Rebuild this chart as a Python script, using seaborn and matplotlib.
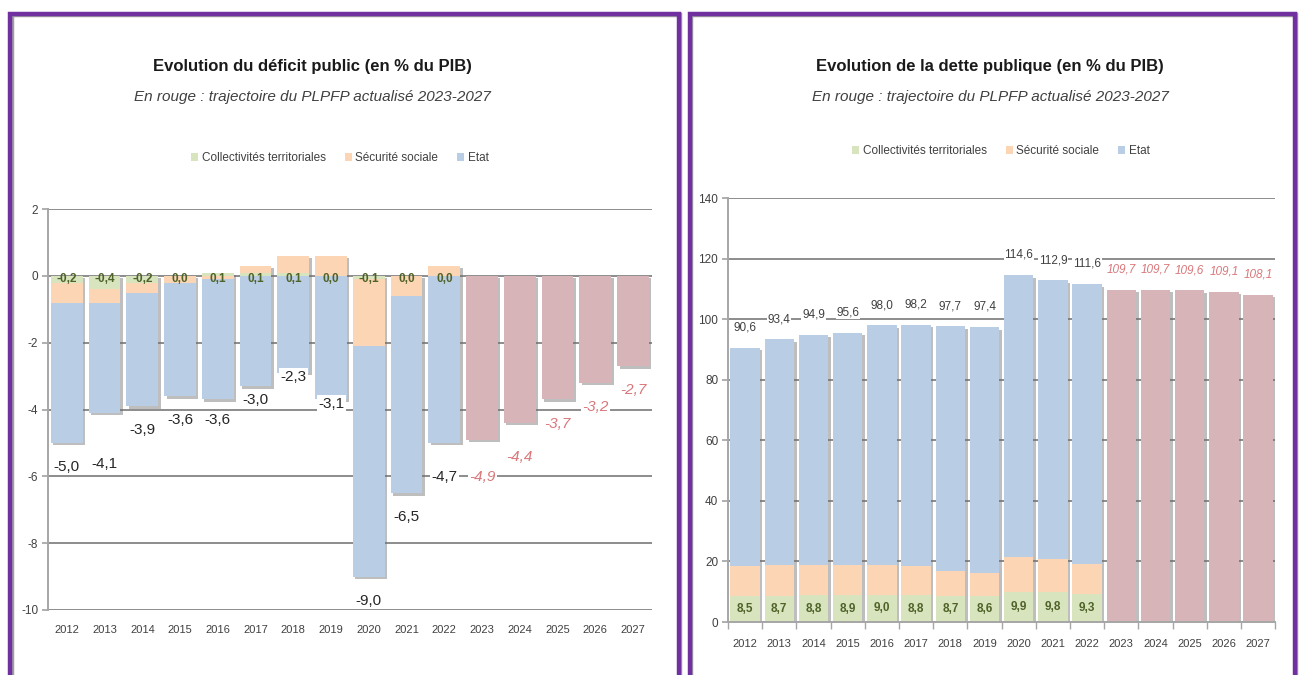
import numpy as np
import pandas as pd
import matplotlib
matplotlib.use('Agg')
import matplotlib.pyplot as plt
import matplotlib.patheffects as pe
from matplotlib.patches import Rectangle, Patch
import seaborn as sns

# ---- data -------------------------------------------------------------
years = [str(y) for y in range(2012, 2028)]
hist_years = years[:11]
plan_years = years[11:]

# déficit public (% du PIB), par sous-secteur
deficit_coll = [-0.2, -0.4, -0.2, 0.0, 0.1, 0.1, 0.1, 0.0, -0.1, 0.0, 0.0]
deficit_secu = [-0.6, -0.4, -0.3, -0.2, -0.1, 0.2, 0.5, 0.6, -2.0, -0.6, 0.3]
deficit_etat = [-4.2, -3.3, -3.4, -3.4, -3.6, -3.3, -2.9, -3.7, -6.9, -5.9, -5.0]
deficit_total = [-5.0, -4.1, -3.9, -3.6, -3.6, -3.0, -2.3, -3.1, -9.0, -6.5, -4.7]
deficit_plan = [-4.9, -4.4, -3.7, -3.2, -2.7]

# dette publique (% du PIB), par sous-secteur
dette_coll = [8.5, 8.7, 8.8, 8.9, 9.0, 8.8, 8.7, 8.6, 9.9, 9.8, 9.3]
dette_secu = [10.0, 10.0, 9.9, 9.8, 9.7, 9.7, 8.2, 7.7, 11.6, 10.9, 9.9]
dette_etat = [72.1, 74.7, 76.2, 76.9, 79.3, 79.7, 80.8, 81.1, 93.1, 92.2, 92.4]
dette_total = [90.6, 93.4, 94.9, 95.6, 98.0, 98.2, 97.7, 97.4, 114.6, 112.9, 111.6]
dette_plan = [109.7, 109.7, 109.6, 109.1, 108.1]

legend_labels = ['Collectivités territoriales', 'Sécurité sociale', 'Etat']

# ---- style ------------------------------------------------------------
C_COLL = '#d7e4bd'
C_SECU = '#fcd5b5'
C_ETAT = '#b9cde5'
C_PLAN = '#d7b4b7'
C_GRID = '#8c8c8c'
C_RED_TXT = '#d9777a'
C_GREEN_TXT = '#4f6228'
C_PURPLE = '#7030a0'

# extra shift (data units) for a few deficit labels that sit lower
deficit_label_shift = {'2013': -0.8, '2022': -0.6, '2023': -0.4, '2024': -0.3}

sns.set_theme(style='white')
plt.rcParams['font.family'] = ['Liberation Sans', 'DejaVu Sans']
plt.rcParams['axes.unicode_minus'] = False


def fmt(v):
    return f'{v:.1f}'.replace('.', ',')


def build_frame(coll, secu, etat, plan):
    pad_h = [0.0] * len(plan_years)
    pad_p = [0.0] * len(hist_years)
    return pd.DataFrame({
        'year': years,
        'coll': list(coll) + pad_h,
        'secu': list(secu) + pad_h,
        'etat': list(etat) + pad_h,
        'plan': pad_p + list(plan),
    })


def stack_bottoms(layers):
    pos = np.zeros(len(years))
    neg = np.zeros(len(years))
    out = []
    for vals in layers:
        v = np.asarray(vals, dtype=float)
        out.append(np.where(v >= 0, pos, neg))
        pos = pos + np.clip(v, 0, None)
        neg = neg + np.clip(v, None, 0)
    return out


def draw_bars(ax, df, width):
    cols = ['coll', 'secu', 'etat', 'plan']
    colors = [C_COLL, C_SECU, C_ETAT, C_PLAN]
    bottoms = stack_bottoms([df[c] for c in cols])
    for col, color, bottom in zip(cols, colors, bottoms):
        sns.barplot(data=df, x='year', y=col, order=years, color=color,
                    width=width, bottom=bottom, errorbar=None, saturation=1,
                    linewidth=0, zorder=2, ax=ax)
    # drop shadow drawn underneath every bar segment
    for p in list(ax.patches):
        if p.get_height() == 0:
            continue
        sh = Rectangle(p.get_xy(), p.get_width(), p.get_height(), facecolor='none',
                       edgecolor='none', zorder=1.9)
        sh.set_path_effects([pe.SimplePatchShadow(offset=(1.8, -1.8),
                                                  shadow_rgbFace='#6f6f6f', alpha=0.45)])
        ax.add_patch(sh)
    ax.set_xlabel('')
    ax.set_ylabel('')


def style_axis(ax):
    ax.set_axisbelow(True)
    ax.yaxis.grid(True, color=C_GRID, lw=1.4)
    ax.xaxis.grid(False)
    for s in ['top', 'right', 'bottom']:
        ax.spines[s].set_visible(False)
    ax.spines['left'].set_color('#a6a6a6')
    ax.spines['left'].set_linewidth(1.4)
    ax.set_xlim(-0.5, len(years) - 0.5)
    ax.set_xticks(range(len(years)))
    ax.set_xticklabels(years)
    ax.tick_params(axis='y', left=True, length=4, color='#a6a6a6',
                   labelsize=8.5, labelcolor='#404040', pad=3)
    ax.tick_params(axis='x', length=0, labelsize=8, labelcolor='#404040')


fig = plt.figure(figsize=(13, 6.75), dpi=100)

# ---- left: déficit ----------------------------------------------------
ax1 = fig.add_axes([0.0369, 0.0963, 0.4646, 0.594])
df_def = build_frame(deficit_coll, deficit_secu, deficit_etat, deficit_plan)
draw_bars(ax1, df_def, width=0.84)
style_axis(ax1)
ax1.set_ylim(-10, 2)
ax1.set_yticks(range(-10, 3, 2))
ax1.tick_params(axis='x', pad=11)

white_box = dict(facecolor='white', edgecolor='none', pad=1.0)
for i, y in enumerate(years):
    if y in hist_years:
        val = deficit_total[i]
        kw = dict(color='#262626')
    else:
        val = deficit_plan[i - len(hist_years)]
        kw = dict(color=C_RED_TXT, style='italic')
    ax1.text(i, val - 0.72 + deficit_label_shift.get(y, 0.0), fmt(val),
             ha='center', va='center', fontsize=11, bbox=white_box, zorder=4, **kw)
for i, v in enumerate(deficit_coll):
    ax1.text(i, -0.08, fmt(v), ha='center', va='center', fontsize=8.5,
             weight='bold', color=C_GREEN_TXT, zorder=4)

# ---- right: dette -----------------------------------------------------
ax2 = fig.add_axes([0.56, 0.0785, 0.421, 0.628])
df_det = build_frame(dette_coll, dette_secu, dette_etat, dette_plan)
draw_bars(ax2, df_det, width=0.86)
style_axis(ax2)
ax2.set_ylim(0, 140)
ax2.set_yticks(range(0, 141, 20))
ax2.spines['bottom'].set_visible(True)
ax2.spines['bottom'].set_color('#a6a6a6')
ax2.spines['bottom'].set_linewidth(1.4)
ax2.set_xticks(np.arange(-0.5, len(years), 1), minor=True)
ax2.tick_params(axis='x', which='minor', bottom=True, length=5, color='#a6a6a6')
ax2.tick_params(axis='x', which='major', pad=12)

for i, y in enumerate(years):
    if y in hist_years:
        val = dette_total[i]
        kw = dict(color='#404040')
    else:
        val = dette_plan[i - len(hist_years)]
        kw = dict(color=C_RED_TXT, style='italic')
    ax2.annotate(fmt(val), (i, val), xytext=(0, 14.5), textcoords='offset points',
                 ha='center', va='center', fontsize=8.5, bbox=dict(facecolor='white',
                 edgecolor='none', pad=0.5), zorder=4, **kw)
for i, v in enumerate(dette_coll):
    ax2.text(i, v / 2, fmt(v), ha='center', va='center', fontsize=8.5,
             weight='bold', color=C_GREEN_TXT, zorder=4)

# ---- titles, legends, frames -----------------------------------------
handles = [Patch(facecolor=c, edgecolor='none') for c in (C_COLL, C_SECU, C_ETAT)]
for cx, title, lx, ly in [(312, 'Evolution du déficit public (en % du PIB)', 340, 158),
                          (990, 'Evolution de la dette publique (en % du PIB)', 1001, 151)]:
    fig.text(cx / 1300, 1 - 67 / 675, title, ha='center', va='center',
             fontsize=12, weight='bold', color='#1a1a1a')
    fig.text(cx / 1300, 1 - 97 / 675, 'En rouge : trajectoire du PLPFP actualisé 2023-2027',
             ha='center', va='center', fontsize=11, style='italic', color='#404040')
    fig.legend(handles, legend_labels, loc='center', ncol=3, frameon=False,
               bbox_to_anchor=(lx / 1300, 1 - ly / 675), fontsize=8.5,
               labelcolor='#404040', handlelength=0.6, handleheight=0.6,
               handletextpad=0.3, columnspacing=1.6)

for x0, x1 in [(10, 678.5), (689.5, 1294.5)]:
    for dx, col in [(1.5, '#a0a0a0'), (0, C_PURPLE)]:
        r = Rectangle(((x0 + dx) / 1300, -0.05), (x1 - x0) / 1300,
                      0.05 + 1 - (13.5 + dx) / 675, transform=fig.transFigure,
                      facecolor='none', edgecolor=col, lw=3.2, zorder=10)
        fig.patches.append(r)

fig.savefig('out.png', dpi=100)
